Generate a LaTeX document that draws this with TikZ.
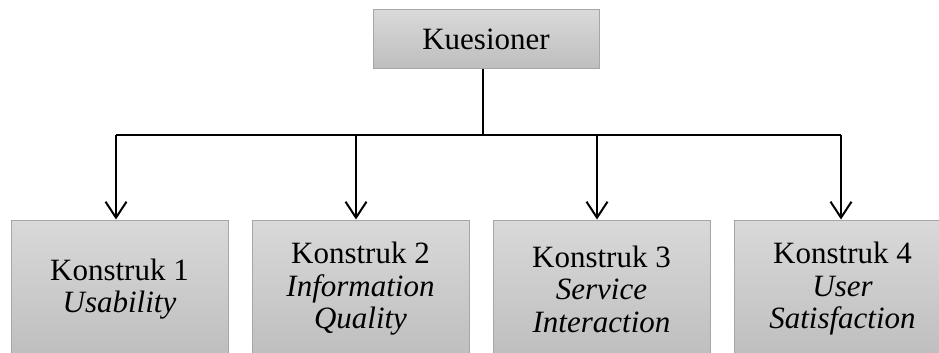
\documentclass[tikz,border=0pt]{standalone}
\usepackage{fontspec}
\setmainfont{Liberation Serif}[ItalicFont={Liberation Serif Italic}, BoldFont={Liberation Serif Bold}]
\usetikzlibrary{arrows.meta,calc}
\definecolor{boxtop}{HTML}{D9D9D9}
\definecolor{boxbot}{HTML}{BEBEBE}
\definecolor{boxline}{HTML}{A6A6A6}
\tikzset{
  graybox/.style={draw=boxline, line width=1pt, top color=boxtop, bottom color=boxbot,
    inner sep=0pt, align=center, font=\fontsize{31}{32.5}\selectfont},
  konbox/.style={graybox, minimum width=217pt, minimum height=138pt},
  busline/.style={line width=1.2pt, black},
  downarrow/.style={line width=2pt, black, -{Straight Barb[length=16pt,width=21pt,line width=2pt]}},
}
\begin{document}
\begin{tikzpicture}[x=1pt,y=-1pt]
  \clip (0,0) rectangle (939,353);
  \useasboundingbox (0,0) rectangle (939,353);
  \fill[white] (0,0) rectangle (939,353);
  \node[graybox, minimum width=226pt, minimum height=58pt, font=\fontsize{31}{33}\selectfont] (top) at (486,39) {Kuesioner};
  \node[konbox] (k1) at (119.5,289) {Konstruk 1\\\itshape Usability};
  \node[konbox] (k2) at (360.5,289) {Konstruk 2\\\itshape Information\\\itshape Quality};
  \node[konbox] (k3) at (601.5,289) {Konstruk 3\\\itshape Service\\\itshape Interaction};
  \node[konbox] (k4) at (842.5,289) {Konstruk 4\\\itshape User\\\itshape Satisfaction};
  \coordinate (stem) at (483,135);
  \coordinate (j1) at (116,135);
  \coordinate (j2) at (356,135);
  \coordinate (j3) at (597,135);
  \coordinate (j4) at (841,135);
  \draw[line width=2pt] (stem |- top.south) -- (stem);
  \draw[busline] (j1) -- (j4);
  \draw[downarrow] (j1) -- (j1 |- k1.north);
  \draw[downarrow] (j2) -- (j2 |- k2.north);
  \draw[downarrow] (j3) -- (j3 |- k3.north);
  \draw[downarrow] (j4) -- (j4 |- k4.north);
\end{tikzpicture}
\end{document}
